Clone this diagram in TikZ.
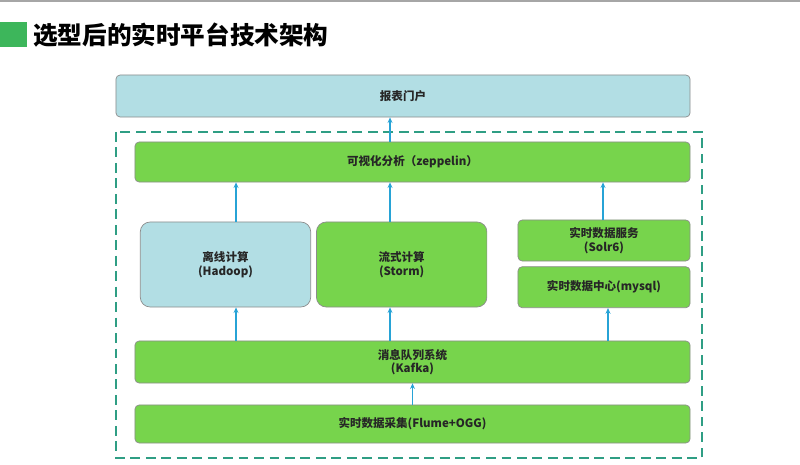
\documentclass[tikz,border=0pt]{standalone}
\usepackage{xcolor}
\usepackage{fontspec}
\setmainfont{Noto Sans CJK SC}
\usepackage{tikz}
\usetikzlibrary{positioning,arrows.meta}

\definecolor{boxgreen}{HTML}{77D44C}
\definecolor{boxblue}{HTML}{B2DEE4}
\definecolor{framegreen}{HTML}{2F9E84}
\definecolor{arrowblue}{HTML}{27A3D6}
\definecolor{titlegreen}{HTML}{3DB65B}

\begin{document}
\begin{tikzpicture}[
  x=0.025cm, y=-0.025cm,
  font=\fontsize{8.2}{9.6}\selectfont\bfseries,
  layer/.style={draw=black!45, rounded corners=3pt, align=center,
    inner sep=2pt, line width=0.5pt, text=black!85},
  wide/.style={layer, fill=boxgreen, minimum width=13.875cm},
  block/.style={layer, rounded corners=7pt, minimum width=4.26cm, minimum height=2.125cm},
  small/.style={layer, fill=boxgreen, minimum width=4.3cm, minimum height=1.025cm},
  arr/.style={-{Stealth[length=4pt,width=3.5pt]}, line width=1pt, arrowblue}
]
\useasboundingbox (0,0) rectangle (800,465);
\fill[black!35] (0,0) rectangle (800,2);
% title
\fill[titlegreen] (0,22) rectangle (27,47);
\node[anchor=west, font=\fontsize{17.5}{20}\selectfont\bfseries, inner sep=0pt] (title) at (33,35) {选型后的实时平台技术架构};
% dashed frame
\draw[framegreen, line width=1pt, dash pattern=on 7pt off 4pt] (116,132) rectangle (702,458);
% layers
\node[layer, fill=boxblue, minimum width=14.35cm, minimum height=1.05cm] (portal) at (403,96) {报表门户};
\node[wide, minimum height=1.0cm] (viz) at (412.5,162) {可视化分析（zeppelin）};
\node[block, fill=boxblue] (hadoop) at (225.5,264.5) {离线计算\\(Hadoop)};
\node[block, fill=boxgreen, right=0.125cm of hadoop] (storm) {流式计算\\(Storm)};
\node[small] (solr) at (604,240.5) {实时数据服务\\(Solr6)};
\node[small, below=0.125cm of solr] (mysql) {实时数据中心(mysql)};
\node[wide, minimum height=1.05cm] (kafka) at (412.5,362) {消息队列系统\\(Kafka)};
\node[wide, minimum height=0.95cm] (collect) at (412.5,424) {实时数据采集(Flume+OGG)};
% arrow columns
\coordinate (c1) at (236,0);
\coordinate (c2) at (390,0);
\coordinate (c3) at (603,0);
\coordinate (c4) at (608,0);
\draw[arr] (viz.north -| c2) -- (portal.south -| c2);
\draw[arr] (hadoop.north -| c1) -- (viz.south -| c1);
\draw[arr] (storm.north -| c2) -- (viz.south -| c2);
\draw[arr] (solr.north -| c3) -- (viz.south -| c3);
\draw[arr] (kafka.north -| c1) -- (hadoop.south -| c1);
\draw[arr] (kafka.north -| c2) -- (storm.south -| c2);
\draw[arr] (kafka.north -| c4) -- (mysql.south -| c4);
\draw[arr] (collect.north) -- (kafka.south);
\end{tikzpicture}
\end{document}
